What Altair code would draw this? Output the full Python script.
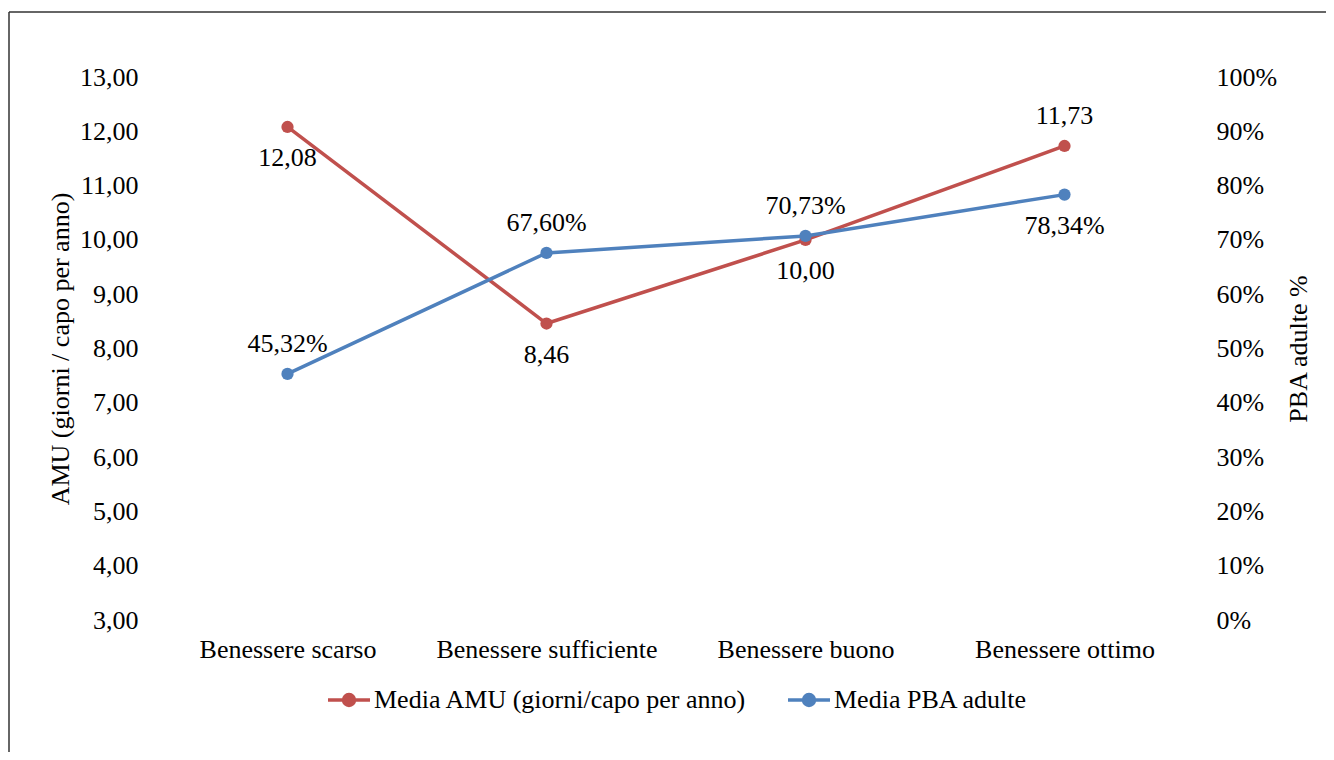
import altair as alt
import pandas as pd

categories = ["Benessere scarso", "Benessere sufficiente", "Benessere buono", "Benessere ottimo"]
amu_values = [12.08, 8.46, 10.00, 11.73]
pba_values = [45.32, 67.60, 70.73, 78.34]
amu_ticks = [3, 4, 5, 6, 7, 8, 9, 10, 11, 12, 13]
pba_ticks = [0, 10, 20, 30, 40, 50, 60, 70, 80, 90, 100]
amu_labels_above = ["Benessere ottimo"]
pba_labels_below = ["Benessere ottimo"]

AMU_NAME = "Media AMU (giorni/capo per anno)"
PBA_NAME = "Media PBA adulte"
RED = "#C0504D"
BLUE = "#4F81BD"
FONT = "'Liberation Serif', 'Times New Roman', serif"
FS = 26

df = pd.DataFrame({"cat": categories, "amu": amu_values, "pba": pba_values})

x_enc = alt.X("cat:N", sort=categories, title=None,
              scale=alt.Scale(padding=0.5),
              axis=alt.Axis(labelAngle=0, domain=False, ticks=False, labelPadding=16, labelLimit=400,
                            labelFontSize=FS, labelFont=FONT, labelColor="#000000"))

color_scale = alt.Scale(domain=[AMU_NAME, PBA_NAME], range=[RED, BLUE])
legend_symbol = "M-1,0H1M-0.26,0A0.26,0.26 0 1,1 0.26,0A0.26,0.26 0 1,1 -0.26,0Z"

amu_y = alt.Y("amu:Q", scale=alt.Scale(domain=[3, 13], nice=False, zero=False),
              axis=alt.Axis(values=amu_ticks, orient="left", grid=False, domain=False, ticks=False,
                            labelPadding=20, labelFontSize=FS, labelFont=FONT, labelColor="#000000",
                            labelExpr="replace(format(datum.value, '.2f'), '.', ',')",
                            title="AMU (giorni / capo per anno)", titleFont=FONT, titleFontSize=FS,
                            titleFontWeight="normal", titleColor="#000000", titlePadding=6))

pba_y = alt.Y("pba:Q", scale=alt.Scale(domain=[0, 100], nice=False),
              axis=alt.Axis(values=pba_ticks, orient="right", grid=False, domain=False, ticks=False,
                            labelPadding=22, labelFontSize=FS, labelFont=FONT, labelColor="#000000",
                            labelExpr="format(datum.value, 'd') + '%'",
                            title="PBA adulte %", titleFont=FONT, titleFontSize=FS, titleAngle=270,
                            titleFontWeight="normal", titleColor="#000000", titlePadding=35))

base = alt.Chart(df)

amu_color = alt.Color("s:N", scale=color_scale,
                      legend=alt.Legend(orient="none", legendX=168, legendY=600, direction="horizontal",
                                        title=None, symbolType=legend_symbol, symbolSize=1764,
                                        symbolStrokeWidth=3.5, symbolOpacity=1, labelFontSize=FS,
                                        labelFont=FONT, labelColor="#000000", labelLimit=600,
                                        columnPadding=34, labelOffset=2, symbolOffset=0,
                                        symbolFillColor=alt.ExprRef(expr="scale('color', datum.value)")))

amu_line = base.transform_calculate(s=f"'{AMU_NAME}'").mark_line(strokeWidth=3.5).encode(
    x=x_enc, y=amu_y, color=amu_color)
amu_pts = base.mark_point(filled=True, size=150, opacity=1, color=RED).encode(x=x_enc, y=amu_y)
amu_txt_above = base.transform_filter(
    alt.FieldOneOfPredicate(field="cat", oneOf=amu_labels_above)
).transform_calculate(lbl="replace(format(datum.amu, '.2f'), '.', ',')").mark_text(
    baseline="bottom", dy=-17, fontSize=FS, font=FONT, color="#000000").encode(x=x_enc, y=amu_y, text="lbl:N")
amu_txt_below = base.transform_filter(
    ~alt.FieldOneOfPredicate(field="cat", oneOf=amu_labels_above)
).transform_calculate(lbl="replace(format(datum.amu, '.2f'), '.', ',')").mark_text(
    baseline="top", dy=18, fontSize=FS, font=FONT, color="#000000").encode(x=x_enc, y=amu_y, text="lbl:N")

pba_line = base.transform_calculate(s=f"'{PBA_NAME}'").mark_line(strokeWidth=3.5).encode(
    x=x_enc, y=pba_y, color=alt.Color("s:N", scale=color_scale))
pba_pts = base.mark_point(filled=True, size=150, opacity=1, color=BLUE).encode(x=x_enc, y=pba_y)
pba_txt_above = base.transform_filter(
    ~alt.FieldOneOfPredicate(field="cat", oneOf=pba_labels_below)
).transform_calculate(lbl="replace(format(datum.pba, '.2f'), '.', ',') + '%'").mark_text(
    baseline="bottom", dy=-17, fontSize=FS, font=FONT, color="#000000").encode(x=x_enc, y=pba_y, text="lbl:N")
pba_txt_below = base.transform_filter(
    alt.FieldOneOfPredicate(field="cat", oneOf=pba_labels_below)
).transform_calculate(lbl="replace(format(datum.pba, '.2f'), '.', ',') + '%'").mark_text(
    baseline="top", dy=18, fontSize=FS, font=FONT, color="#000000").encode(x=x_enc, y=pba_y, text="lbl:N")

amu_layer = alt.layer(amu_line, amu_pts, amu_txt_above, amu_txt_below)
pba_layer = alt.layer(pba_line, pba_pts, pba_txt_above, pba_txt_below)

frame_data = alt.Data(values=[{"k": 1}])
frame_top = alt.Chart(frame_data).mark_rule(color="#333333", strokeWidth=1.5).encode(
    x=alt.value(-149), x2=alt.value(1300), y=alt.value(-65))
frame_left = alt.Chart(frame_data).mark_rule(color="#333333", strokeWidth=1.5).encode(
    x=alt.value(-149), y=alt.value(-65), y2=alt.value(800))

chart = alt.layer(amu_layer, pba_layer, frame_top, frame_left).resolve_scale(
    y="independent"
).properties(
    width=1036, height=543,
    padding={"left": 150, "top": 69, "right": 132, "bottom": 132},
    autosize=alt.AutoSizeParams(type="none"),
    background="white",
).configure_view(stroke=None)

chart.save("out.html", embed_options={"renderer": "svg", "actions": False})
